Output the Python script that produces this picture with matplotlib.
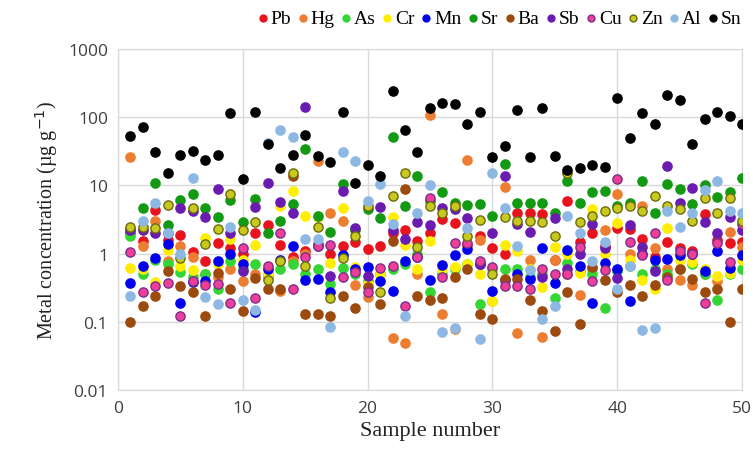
import numpy as np
import matplotlib
matplotlib.use("Agg")
from matplotlib import pyplot as plt

# sample numbers 1..50
samples = list(range(1, 51))

Pb = [2.0, 1.55, 4.4, 1.6, 1.9, 1.07, 0.79, 1.45, 1.2, 1.0,
      2.0, 2.6, 1.35, 0.9, 1.1, 1.4, 1.0, 1.3, 1.5, 1.18,
      1.3, 2.0, 2.25, 1.55, 2.0, 3.2, 2.8, 1.35, 1.8, 1.2,
      1.0, 4.0, 4.0, 3.8, 0.8, 6.0, 1.5, 2.0, 1.3, 2.4,
      2.3, 1.65, 0.9, 1.5, 1.2, 1.1, 3.8, 1.6, 1.45, 1.5]
Hg = [26, 1.3, 3.0, 0.77, 1.3, 0.9, 0.5, 0.45, 0.6, 0.4,
      0.5, 0.45, 0.28, 0.79, 1.0, 23, 4.0, 3.0, 0.35, 0.23,
      0.5, 0.058, 0.049, 0.5, 110, 0.13, 0.078, 24, 1.6, 0.2,
      9.6, 0.069, 0.8, 0.06, 0.8, 0.5, 0.25, 0.6, 2.25, 7.6,
      1.0, 5.0, 1.2, 0.6, 0.41, 0.35, 0.5, 0.4, 2.1, 1.25]
As = [1.8, 0.5, 0.8, 0.7, 0.53, 0.45, 0.5, 0.3, 0.77, 0.6,
      0.7, 0.5, 0.6, 0.7, 0.5, 0.6, 0.36, 0.62, 0.5, 0.4,
      0.5, 0.6, 0.7, 1.0, 0.27, 0.5, 0.6, 0.7, 0.18, 0.6,
      0.6, 0.6, 0.45, 0.5, 0.22, 0.74, 0.55, 0.5, 0.16, 0.55,
      0.65, 0.5, 0.6, 0.5, 0.6, 0.7, 0.5, 0.21, 0.5, 0.6]
Cr = [0.62, 0.6, 0.39, 1.15, 0.65, 0.58, 1.7, 0.7, 1.65, 0.81,
      1.36, 0.5, 5.0, 8.2, 3.6, 3.5, 0.73, 4.7, 0.64, 0.36,
      0.5, 3.4, 1.35, 0.6, 1.55, 0.6, 0.64, 0.7, 0.5, 0.2,
      1.35, 1.1, 0.6, 0.32, 1.25, 1.0, 0.52, 4.5, 1.0, 2.8,
      0.8, 0.41, 0.3, 2.4, 0.8, 0.75, 0.6, 0.47, 0.52, 0.8]
Mn = [0.37, 0.66, 0.85, 1.4, 0.19, 0.38, 0.4, 0.79, 1.0, 0.7,
      0.14, 0.6, 0.8, 1.3, 0.41, 0.43, 0.27, 0.97, 0.6, 0.64,
      0.4, 0.28, 0.79, 0.9, 0.41, 0.69, 0.94, 1.18, 0.7, 0.28,
      0.41, 0.5, 0.42, 1.2, 0.37, 1.15, 0.65, 0.19, 0.74, 0.6,
      0.2, 1.0, 0.8, 0.83, 0.97, 1.0, 0.55, 1.1, 0.62, 0.97]
Sr = [2.3, 4.6, 11, 2.6, 6.2, 7.6, 4.6, 3.5, 6.2, 2.9,
      6.4, 2.0, 3.0, 5.3, 34, 3.6, 2.1, 10.6, 2.2, 4.5,
      3.3, 52, 5.0, 14, 6.0, 7.9, 5.6, 5.2, 5.4, 3.6,
      21, 5.6, 5.6, 5.6, 4.0, 11.5, 5.6, 8.0, 8.4, 5.0,
      5.6, 11.8, 4.0, 10.6, 9.0, 5.4, 10, 6.8, 8.0, 13]
Ba = [0.10, 0.17, 0.24, 0.56, 0.34, 0.27, 0.12, 0.52, 0.3, 0.145,
      0.44, 0.3, 0.3, 14, 0.13, 0.13, 0.12, 0.24, 0.16, 0.32,
      0.18, 1.55, 9.0, 0.24, 0.21, 0.22, 0.46, 0.6, 0.13, 0.11,
      0.43, 0.43, 0.21, 0.145, 0.074, 0.27, 0.093, 0.64, 0.41, 0.27,
      0.35, 0.24, 0.35, 0.45, 0.6, 0.42, 0.27, 0.3, 0.1, 0.3]
Sb = [2.2, 2.2, 2.0, 2.0, 4.6, 4.2, 3.5, 9.0, 2.0, 0.56,
      4.8, 10.7, 5.8, 3.9, 140, 1.3, 0.47, 8.2, 2.4, 0.47,
      4.8, 2.25, 1.65, 2.9, 2.6, 4.7, 4.5, 3.3, 0.7, 2.0,
      14, 2.7, 2.1, 0.46, 3.3, 0.6, 1.0, 2.7, 1.2, 0.44,
      2.6, 1.25, 0.55, 19, 5.6, 9.2, 2.9, 2.0, 3.4, 2.2]
Cu = [1.07, 0.27, 0.34, 0.37, 0.12, 0.4, 0.35, 0.36, 0.19, 1.2,
      0.22, 0.66, 2.0, 0.3, 0.9, 1.3, 1.35, 0.46, 0.54, 0.27,
      0.62, 0.65, 0.17, 0.9, 6.6, 0.46, 1.45, 1.45, 0.79, 0.64,
      0.33, 0.33, 0.3, 0.6, 0.5, 0.5, 1.27, 0.4, 0.58, 12.3,
      1.5, 0.97, 2.0, 0.41, 1.1, 1.0, 0.19, 1.45, 0.75, 2.7]
Zn = [2.5, 2.5, 2.4, 5.1, 0.85, 4.6, 1.4, 2.3, 7.6, 2.25,
      2.9, 0.41, 0.79, 15, 0.66, 2.5, 0.22, 0.87, 1.8, 5.0,
      0.27, 7.1, 15.5, 1.27, 5.0, 4.0, 5.0, 1.8, 3.1, 0.5,
      3.5, 3.0, 3.0, 2.9, 1.8, 15, 2.9, 3.6, 4.2, 4.6,
      5.0, 4.2, 6.9, 5.0, 4.5, 3.0, 6.5, 4.0, 6.5, 3.0]
Al = [0.24, 3.0, 5.6, 2.0, 1.0, 13, 0.23, 0.18, 2.5, 0.21,
      0.15, 42, 66, 52, 1.65, 1.65, 0.085, 31, 23, 6.0,
      10.4, 2.7, 0.12, 3.9, 10, 0.071, 0.082, 2.4, 0.056, 15.5,
      4.7, 1.3, 0.58, 0.11, 0.17, 3.6, 2.0, 0.79, 1.5, 0.3,
      0.65, 0.077, 0.08, 4.2, 2.5, 4.0, 8.5, 11.5, 4.2, 4.0]
Sn = [53, 71, 31, 15.5, 28, 32, 24, 28, 115, 12.3,
      118, 40, 18, 28, 55, 27, 22, 118, 11, 20,
      14, 240, 65, 31, 135, 160, 155, 80, 118, 26,
      38, 130, 26, 135, 27, 17, 18, 20, 18.5, 195,
      50, 115, 80, 215, 180, 40, 95, 118, 105, 80]

names = ["Pb", "Hg", "As", "Cr", "Mn", "Sr", "Ba", "Sb", "Cu", "Zn", "Al", "Sn"]
series = [Pb, Hg, As, Cr, Mn, Sr, Ba, Sb, Cu, Zn, Al, Sn]
faces = ["#e8131c", "#ed7d31", "#33d633", "#ffee00", "#0000ee", "#139a13",
         "#9c4a0e", "#6a1cb0", "#ee3e9a", "#c8c81e", "#8db8e4", "#000000"]
edges = ["#e8131c", "#ed7d31", "#33d633", "#ffee00", "#0000ee", "#139a13",
         "#9c4a0e", "#6a1cb0", "#7a2f8a", "#6b6b10", "#8db8e4", "#000000"]

fig = plt.figure(figsize=(7.55, 4.52), dpi=100)
ax = fig.add_axes([0.156, 0.135, 0.827, 0.754])

for name, vals, fc, ec in zip(names, series, faces, edges):
    ax.scatter(samples, vals, s=44, c=fc, edgecolors=ec, linewidths=1.0,
               label=name, zorder=3)

ax.set_yscale("log")
ax.set_ylim(0.01, 1000)
ax.set_xlim(0, 50)
ax.set_xticks([0, 10, 20, 30, 40, 50])
ax.set_yticks([0.01, 0.1, 1, 10, 100, 1000])
ax.set_yticklabels(["0.01", "0.1", "1", "10", "100", "1000"])
ax.minorticks_off()
ax.grid(True, color="#d9d9d9", linewidth=1.0, zorder=0)
for sp in ax.spines.values():
    sp.set_color("#d9d9d9")
ax.tick_params(length=0, labelsize=12.5, colors="#404040", pad=7)
for lab in ax.get_xticklabels() + ax.get_yticklabels():
    lab.set_family("Open Sans")

ax.set_ylabel("Metal concentration (\u00b5g g$^{-1}$)", family="Liberation Serif",
              fontsize=14.5, color="#222222", labelpad=6)
ax.set_xlabel("Sample number", family="Liberation Serif", fontsize=16,
              color="#222222", labelpad=4)

fig.legend(loc="center right", bbox_to_anchor=(0.998, 0.958), ncol=12,
           frameon=False, handletextpad=0.1, columnspacing=0.3,
           handlelength=0.6, borderpad=0.1, markerscale=0.75,
           prop={"family": "Liberation Serif", "size": 14})

fig.savefig("out.png", dpi=100)
